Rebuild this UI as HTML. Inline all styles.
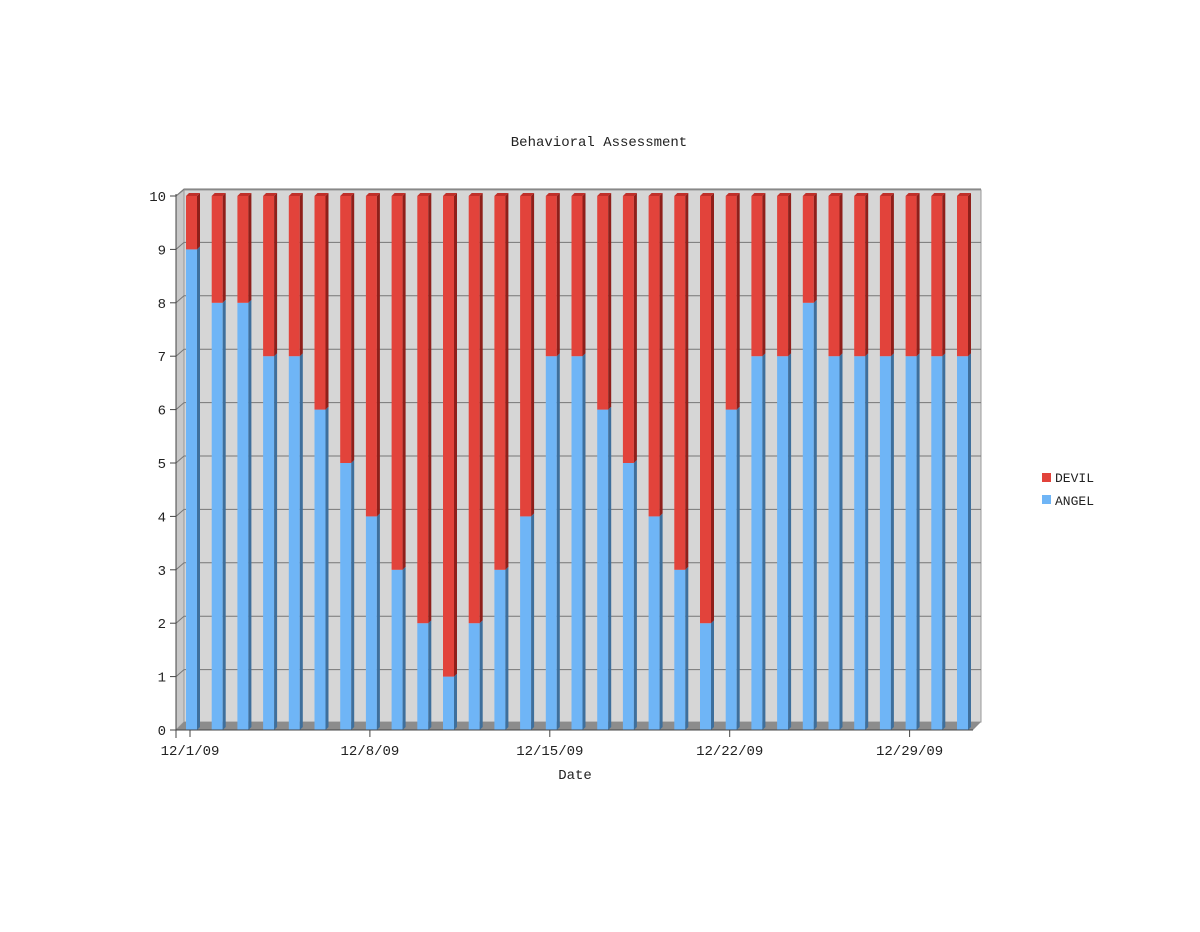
<!DOCTYPE html>
<html><head><meta charset="utf-8"><style>
body{margin:0;background:#fff}
svg text{font-family:"Liberation Mono",monospace;fill:#222}
</style></head><body>
<svg width="1200" height="927" id="c">
<text x="599" y="146" font-size="14" text-anchor="middle">Behavioral Assessment</text>
<g id="plot"></g>
<text x="575" y="779" font-size="14" text-anchor="middle">Date</text>
<g>
<g><rect x="1042" y="473" width="9" height="9" fill="#e2433b"/><text x="1055" y="482" font-size="13">DEVIL</text></g>
<g><rect x="1042" y="495" width="9" height="9" fill="#6fb5f6"/><text x="1055" y="505" font-size="13">ANGEL</text></g>
</g>
</svg>
<script>
const categories=["12/1/09","12/2/09","12/3/09","12/4/09","12/5/09","12/6/09","12/7/09","12/8/09","12/9/09","12/10/09","12/11/09","12/12/09","12/13/09","12/14/09","12/15/09","12/16/09","12/17/09","12/18/09","12/19/09","12/20/09","12/21/09","12/22/09","12/23/09","12/24/09","12/25/09","12/26/09","12/27/09","12/28/09","12/29/09","12/30/09","12/31/09"];
const angel=[9,8,8,7,7,6,5,4,3,2,1,2,3,4,7,7,6,5,4,3,2,6,7,7,8,7,7,7,7,7,7];
const devil=[1,2,2,3,3,4,5,6,7,8,9,8,7,6,3,3,4,5,6,7,8,4,3,3,2,3,3,3,3,3,3];
const yTicks=[0,1,2,3,4,5,6,7,8,9,10];
const xLabelIdx=[0,7,14,21,28];
const NS="http://www.w3.org/2000/svg";
const g=document.getElementById('plot');
const L=176,R=973,Y0=730,Y10=196,D=8;
const y=v=>Y0-(Y10-Y0)*-v/10;
const step=25.7,x0=186;
const xb=i=>x0+i*step;
function el(t,a,name,inter){const e=document.createElementNS(NS,t);for(const k in a)e.setAttribute(k,a[k]);g.appendChild(e);return e;}
// back wall
let e=el('polygon',{points:`${L},${Y0} ${L+D},${Y0-D} ${L+D},${Y10-6} ${L},${Y10}`,fill:'#c8c8c8',stroke:'#999'});


e=el('rect',{x:L+D,y:Y10-6,width:R+D-L-D,height:Y0-D-(Y10-6),fill:'#d6d6d6',stroke:'#999'});


e=el('polygon',{points:`${L},${Y0} ${L+D},${Y0-D} ${R+D},${Y0-D} ${R},${Y0}`,fill:'#8c8c8c'});


yTicks.forEach(t=>{
 const yy=y(t);
 if(t>0){const l=el('polyline',{points:`${L},${yy} ${L+D},${yy-D+1} ${R+D},${yy-D+1}`,fill:'none',stroke:'#777','stroke-width':1});
 
 }
 const tk=el('line',{x1:L-6,y1:yy,x2:L,y2:yy,stroke:'#444'});
 
 
 const tx=el('text',{x:L-10,y:yy+5,'font-size':14,'text-anchor':'end'});tx.textContent=t;
 
 
});
angel.forEach((a,i)=>{
 const d=devil[i],x=xb(i),w=11,dp=3;
 const ya=y(a),yt=y(a+d);
 const segs=[[Y0,ya,'#6fb5f6','#3e6f9c','angel'],[ya,yt,'#e2433b','#8f1f1a','devil']];
 segs.forEach(s=>{
  const r=el('rect',{x:x,y:s[1],width:w,height:s[0]-s[1],fill:s[2]});
  
  
  const sd=el('polygon',{points:`${x+w},${s[0]} ${x+w+dp},${s[0]-dp} ${x+w+dp},${s[1]-dp} ${x+w},${s[1]}`,fill:s[3]});
  
  
 });
 const tp=el('polygon',{points:`${x},${yt} ${x+dp},${yt-dp} ${x+w+dp},${yt-dp} ${x+w},${yt}`,fill:'#c0302a'});
 
 
});
e=el('line',{x1:L,y1:Y10-2,x2:L,y2:Y0+8,stroke:'#444'});


e=el('line',{x1:L,y1:Y0,x2:R,y2:Y0,stroke:'#444'});


xLabelIdx.forEach(i=>{
 const xx=xb(i)+4;
 const tk=el('line',{x1:xx,y1:Y0,x2:xx,y2:Y0+7,stroke:'#444'});
 
 
 const tx=el('text',{x:xx,y:Y0+25,'font-size':14,'text-anchor':'middle'});tx.textContent=categories[i];
 
 
});
</script>
</body></html>
